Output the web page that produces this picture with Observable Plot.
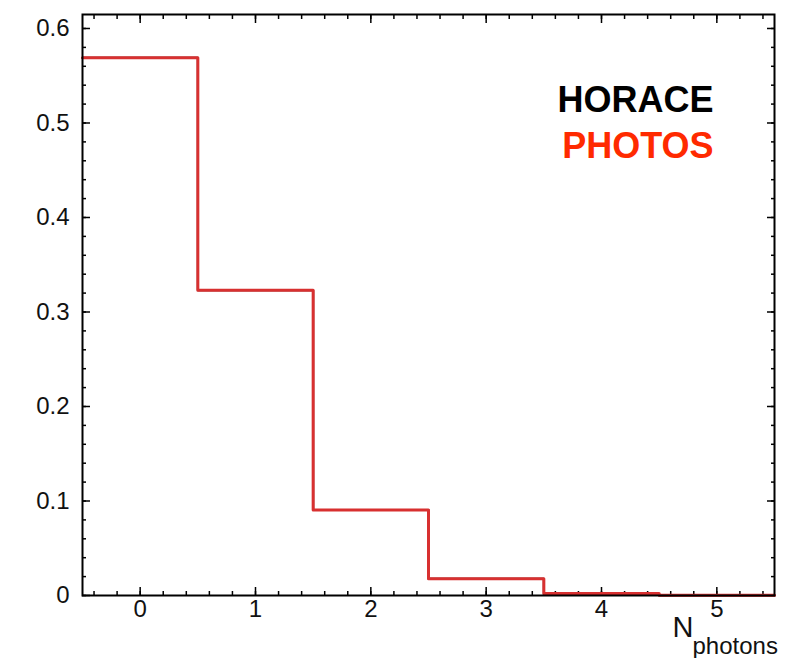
<!DOCTYPE html>
<html>
<head>
<meta charset="utf-8">
<script src="https://cdn.jsdelivr.net/npm/d3@7"></script>
<script src="https://cdn.jsdelivr.net/npm/@observablehq/plot@0.6"></script>
<style>
  html, body { margin: 0; padding: 0; background: #fff; }
  #chart svg { display: block; }
</style>
</head>
<body>
<div id="chart"></div>
<script>
// Data
const bins = [0, 1, 2, 3, 4, 5];               // N_photons bin centres
const horace = [0.569, 0.323, 0.0905, 0.0177, 0.0009, 0.0001];
const photos = [0.569, 0.323, 0.0905, 0.0177, 0.0022, 0.0003];
const xTicks = [0, 1, 2, 3, 4, 5];
const yTicks = [0, 0.1, 0.2, 0.3, 0.4, 0.5, 0.6];
const legendLabels = ["HORACE", "PHOTOS"];
const axisLabel = ["N", "photons"];

function stepPoints(values) {
  const pts = bins.map((b, i) => ({x: b - 0.5, y: values[i]}));
  pts.push({x: bins[bins.length - 1] + 0.5, y: values[values.length - 1]});
  return pts;
}

const xMinor = d3.range(-0.4, 5.41, 0.2).map(v => +v.toFixed(2));
const yMinor = d3.range(0, 0.6148, 0.02).map(v => +v.toFixed(3));

const font = "'Liberation Sans', Arial, Helvetica, sans-serif";

const chart = Plot.plot({
  width: 788,
  height: 658,
  marginLeft: 82,
  marginRight: 14,
  marginTop: 14,
  marginBottom: 63,
  style: {fontFamily: font, fontSize: "24px", background: "#fff", overflow: "visible"},
  x: {domain: [-0.5, 5.5]},
  y: {domain: [0, 0.6148]},
  marks: [
    // minor ticks
    Plot.axisX(xMinor, {anchor: "bottom", tickSize: -4, tickFormat: () => "", label: null, strokeWidth: 1.5}),
    Plot.axisX(xMinor, {anchor: "top", tickSize: -4, tickFormat: () => "", label: null, strokeWidth: 1.5}),
    Plot.axisY(yMinor, {anchor: "left", tickSize: -4, tickFormat: () => "", label: null, strokeWidth: 1.5}),
    Plot.axisY(yMinor, {anchor: "right", tickSize: -4, tickFormat: () => "", label: null, strokeWidth: 1.5}),
    // major ticks with labels
    Plot.axisX(xTicks, {anchor: "bottom", tickSize: -8, tickPadding: 12, tickFormat: d => String(d), label: null, fontSize: 24, fill: "#111", strokeWidth: 1.5}),
    Plot.axisX(xTicks, {anchor: "top", tickSize: -8, tickFormat: () => "", label: null, strokeWidth: 1.5}),
    Plot.axisY(yTicks, {anchor: "left", tickSize: -8, tickPadding: 21, tickFormat: d => String(d), label: null, fontSize: 24, fill: "#111", strokeWidth: 1.5}),
    Plot.axisY(yTicks, {anchor: "right", tickSize: -8, tickFormat: () => "", label: null, strokeWidth: 1.5}),
    // histograms
    Plot.line(stepPoints(horace), {x: "x", y: "y", curve: "step-after", stroke: "#000", strokeWidth: 2}),
    Plot.line(stepPoints(photos), {x: "x", y: "y", curve: "step-after", stroke: "#d83030", strokeWidth: 3}),
    Plot.frame({stroke: "#000", strokeWidth: 2}),
    // legend
    Plot.text([legendLabels[0]], {frameAnchor: "top-right", textAnchor: "end", dx: -61, dy: 72, fontSize: 36, fontWeight: "bold", fill: "#000", letterSpacing: "1.5px"}),
    Plot.text([legendLabels[1]], {frameAnchor: "top-right", textAnchor: "end", dx: -61, dy: 118, fontSize: 36, fontWeight: "bold", fill: "#ff2a00", letterSpacing: "1.5px"}),
    // axis label N_photons
    Plot.text([axisLabel[0]], {frameAnchor: "bottom-right", textAnchor: "start", dx: -102, dy: 41, fontSize: 29, fill: "#111"}),
    Plot.text([axisLabel[1]], {frameAnchor: "bottom-right", textAnchor: "start", dx: -82, dy: 58, fontSize: 24, fill: "#111"})
  ]
});

document.getElementById("chart").appendChild(chart);
</script>
</body>
</html>
